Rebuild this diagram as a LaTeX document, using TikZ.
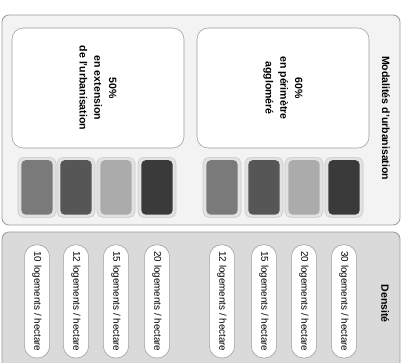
\documentclass[tikz,border=0pt]{standalone}
\usepackage{fontspec}
\setmainfont{Liberation Sans}
\usepackage{tikz}
\usetikzlibrary{positioning}
\definecolor{urbpanel}{HTML}{F3F3F3}
\definecolor{urbband}{HTML}{DADADA}
\definecolor{urbedge}{HTML}{9C9C9C}
\definecolor{urbhalo}{HTML}{E2E2E2}
\definecolor{urbmid}{HTML}{7A7A7A}
\definecolor{urbdark}{HTML}{565656}
\definecolor{urblight}{HTML}{ABABAB}
\definecolor{urbdeep}{HTML}{3A3A3A}

\begin{document}
\begin{tikzpicture}[font=\fontsize{7}{8.5}\selectfont,
    panel/.style={draw=urbedge,rounded corners=5pt,line width=0.6pt},
    zone/.style={draw=urbedge,fill=white,rounded corners=8pt,rotate=-90,minimum width=3cm,minimum height=4.3cm,align=center,font=\fontsize{7.5}{10.5}\selectfont\bfseries},
    halo/.style={draw=urbedge!55,fill=urbhalo,rounded corners=4pt,minimum width=0.95cm,minimum height=1.5cm,inner sep=0},
    swatch/.style={rounded corners=3pt,minimum width=0.78cm,minimum height=1.36cm,inner sep=0},
    pill/.style={draw=urbedge,fill=white,rounded corners=3mm,rotate=-90,minimum width=2.83cm,minimum height=0.63cm,inner sep=1pt},
    heading/.style={rotate=-90,font=\fontsize{7.5}{9}\selectfont\bfseries}]
    \useasboundingbox (0,0) rectangle (10.1,9.075);
    % panels
    \node[panel,fill=urbpanel,minimum width=9.95cm,minimum height=5.25cm] (modpanel) at (5.025,6.075) {};
    \node[panel,fill=urbband,minimum width=9.95cm,minimum height=3.5cm] (denspanel) at (5.025,1.525) {};
    \node[heading] (modtitle) at (9.65,6.12) {Modalités d'urbanisation};
    \node[heading] (denstitle) at (9.63,1.48) {Densité};
    % the two shares
    \node[zone] (ext) at (2.45,6.875) {50\%\\en extension\\de l'urbanisation};
    \node[zone] (agglo) at (7.075,6.875) {60\%\\en périmètre\\aggloméré};
    % swatches and densities
    \foreach \x/\c/\d [count=\i] in {0.925/urbmid/10,1.9/urbdark/12,2.9/urblight/15,3.925/urbdeep/20,5.55/urbmid/12,6.6/urbdark/15,7.6/urblight/20,8.6/urbdeep/30}{
      \node[halo] (halo\i) at (\x,4.39) {};
      \node[swatch,fill=\c] (sq\i) at (\x,4.39) {};
      \node[pill] (dens\i) at (\x,1.54) {\d\ logements / hectare};
    }
  \end{tikzpicture}
\end{document}
